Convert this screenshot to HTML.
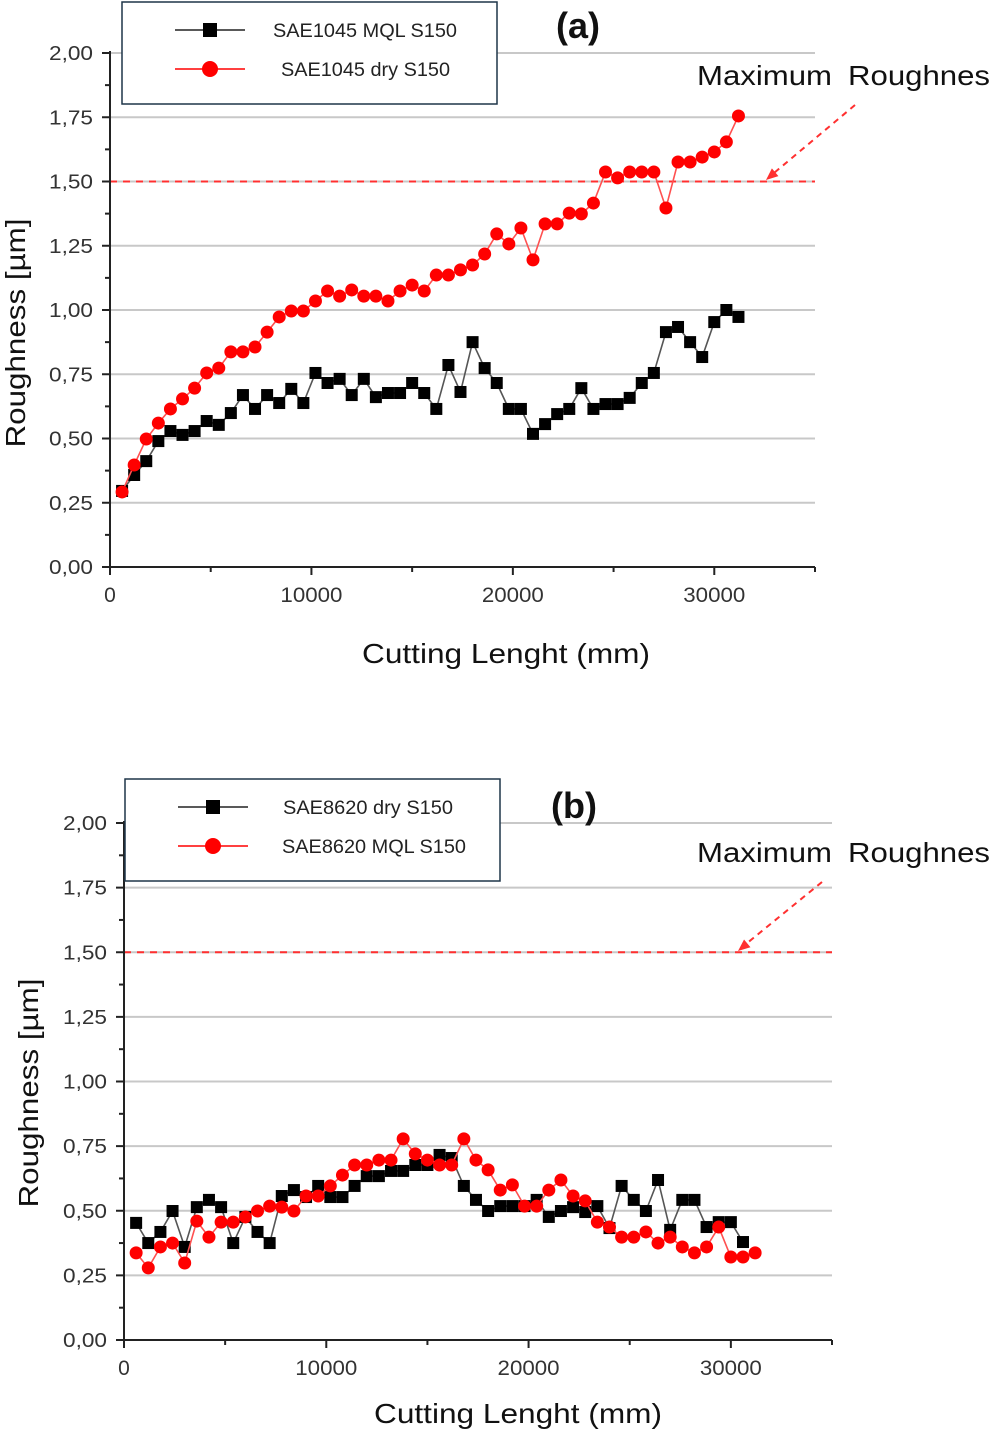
<!DOCTYPE html>
<html><head><meta charset="utf-8"><style>
html,body{margin:0;padding:0;background:#fff;}
svg{display:block;font-family:"Liberation Sans",Arial,sans-serif;}
</style></head><body>
<svg id="root" width="993" height="1438" viewBox="0 0 993 1438"></svg>
<script>
const ticksY = ["0,00","0,25","0,50","0,75","1,00","1,25","1,50","1,75","2,00"];
const tickValsY = [0,0.25,0.5,0.75,1,1.25,1.5,1.75,2];
const tickValsX = [0,10000,20000,30000];
const ticksX = ["0","10000","20000","30000"];
const maxRough = 1.5;

const aX = [600,1200,1800,2400,3000,3600,4200,4800,5400,6000,6600,7200,7800,8400,9000,9600,10200,10800,11400,12000,12600,13200,13800,14400,15000,15600,16200,16800,17400,18000,18600,19200,19800,20400,21000,21600,22200,22800,23400,24000,24600,25200,25800,26400,27000,27600,28200,28800,29400,30000,30600,31200];
const aBlack = [0.296,0.358,0.412,0.490,0.529,0.514,0.529,0.568,0.553,0.599,0.669,0.615,0.669,0.638,0.693,0.638,0.755,0.716,0.732,0.669,0.732,0.661,0.677,0.677,0.716,0.677,0.615,0.786,0.681,0.875,0.774,0.716,0.615,0.615,0.518,0.556,0.595,0.615,0.696,0.615,0.634,0.634,0.658,0.716,0.755,0.914,0.934,0.875,0.817,0.953,1.0,0.973];
const aRed = [0.292,0.397,0.498,0.560,0.615,0.654,0.696,0.755,0.774,0.837,0.837,0.856,0.914,0.973,0.996,0.996,1.035,1.074,1.054,1.078,1.054,1.054,1.035,1.074,1.097,1.074,1.136,1.136,1.156,1.175,1.218,1.296,1.257,1.319,1.195,1.335,1.335,1.377,1.374,1.416,1.537,1.514,1.537,1.537,1.537,1.397,1.576,1.576,1.595,1.615,1.654,1.755];

const bXBlack = [600,1200,1800,2400,3000,3600,4200,4800,5400,6000,6600,7200,7800,8400,9000,9600,10200,10800,11400,12000,12600,13200,13800,14400,15000,15600,16200,16800,17400,18000,18600,19200,19800,20400,21000,21600,22200,22800,23400,24000,24600,25200,25800,26400,27000,27600,28200,28800,29400,30000,30600];
const bBlack = [0.453,0.375,0.418,0.499,0.360,0.514,0.542,0.514,0.375,0.476,0.418,0.375,0.557,0.580,0.553,0.596,0.553,0.553,0.596,0.634,0.634,0.654,0.654,0.677,0.677,0.716,0.704,0.596,0.542,0.499,0.518,0.518,0.518,0.542,0.476,0.499,0.514,0.495,0.518,0.433,0.596,0.542,0.499,0.619,0.426,0.542,0.542,0.437,0.456,0.456,0.379];
const bXRed = [600,1200,1800,2400,3000,3600,4200,4800,5400,6000,6600,7200,7800,8400,9000,9600,10200,10800,11400,12000,12600,13200,13800,14400,15000,15600,16200,16800,17400,18000,18600,19200,19800,20400,21000,21600,22200,22800,23400,24000,24600,25200,25800,26400,27000,27600,28200,28800,29400,30000,30600,31200];
const bRed = [0.337,0.279,0.360,0.375,0.298,0.460,0.398,0.456,0.456,0.476,0.499,0.518,0.514,0.499,0.557,0.557,0.596,0.638,0.677,0.677,0.696,0.696,0.778,0.720,0.696,0.677,0.677,0.778,0.696,0.658,0.580,0.600,0.518,0.518,0.580,0.619,0.557,0.538,0.456,0.437,0.398,0.398,0.418,0.375,0.398,0.360,0.337,0.360,0.437,0.321,0.321,0.337];

const NS="http://www.w3.org/2000/svg";
const root=document.getElementById('root');
function mk(tag,attrs,parent){const e=document.createElementNS(NS,tag);for(const k in attrs)e.setAttribute(k,attrs[k]);(parent||root).appendChild(e);return e;}

function chart(cfg){
  const g=mk('g',{});
  
  
  const sx=v=>cfg.x0+(v/35000)*(cfg.x1-cfg.x0);
  const sy=v=>cfg.y0-(v/2)*(cfg.y0-cfg.y2);
  tickValsY.forEach((v,i)=>{
    if(i===0) return;
    const l=mk('line',{x1:cfg.x0,x2:cfg.x1,y1:sy(v),y2:sy(v),stroke:'#c8c8c8','stroke-width':2},g);
    
    
  });
  const ml=mk('line',{x1:cfg.x0,x2:cfg.x1,y1:sy(maxRough),y2:sy(maxRough),stroke:'#ff3030','stroke-width':2,'stroke-dasharray':'7,6'},g);
  
  
  const ya=mk('line',{x1:cfg.x0,x2:cfg.x0,y1:cfg.y2-2,y2:cfg.y0,stroke:'#222','stroke-width':2},g);
  
  
  const xa=mk('line',{x1:cfg.x0,x2:cfg.x1,y1:cfg.y0,y2:cfg.y0,stroke:'#222','stroke-width':2},g);
  
  
  for(let k=0;k<=16;k++){
    const v=k*0.125, y=sy(v), len=(k%2===0)?8:5;
    mk('line',{x1:cfg.x0-len,x2:cfg.x0,y1:y,y2:y,stroke:'#222','stroke-width':2},g);
  }
  tickValsY.forEach((v,i)=>{
    const t=mk('text',{x:cfg.x0-17,y:sy(v)+7,'text-anchor':'end','font-size':20,fill:'#333',textLength:44,lengthAdjust:'spacingAndGlyphs'},g);
    t.textContent=ticksY[i];
    
    
  });
  for(let k=0;k<=7;k++){
    const x=sx(k*5000), len=(k%2===0)?8:5;
    mk('line',{x1:x,x2:x,y1:cfg.y0,y2:cfg.y0+len,stroke:'#222','stroke-width':2},g);
  }
  tickValsX.forEach((v,i)=>{
    const t=mk('text',{x:sx(v),y:cfg.y0+35,'text-anchor':'middle','font-size':21,fill:'#333'},g);
    if(v>0){t.setAttribute('textLength',62);t.setAttribute('lengthAdjust','spacingAndGlyphs');}
    t.textContent=ticksX[i];
    
    
  });
  const xt=mk('text',{x:cfg.xtX,y:cfg.xtY,'text-anchor':'middle','font-size':28,fill:'#111',textLength:288,lengthAdjust:'spacingAndGlyphs'},g);
  xt.textContent='Cutting Lenght (mm)';
  
  
  const yt=mk('text',{x:0,y:0,'text-anchor':'middle','font-size':28,fill:'#111',textLength:229,lengthAdjust:'spacingAndGlyphs',transform:`translate(${cfg.ytX},${cfg.ytY}) rotate(-90)`},g);
  yt.textContent='Roughness [µm]';
  
  
  cfg.series.forEach(s=>{
    const sg=mk('g',{},g);
    
    
    const pts=s.xs.map((x,i)=>sx(x)+','+sy(s.ys[i])).join(' ');
    mk('polyline',{points:pts,fill:'none',stroke:s.line,'stroke-width':1.6},sg);
    s.xs.forEach((x,i)=>{
      let m;
      if(s.shape==='sq') m=mk('rect',{x:sx(x)-6,y:sy(s.ys[i])-6,width:12,height:12,fill:'#000'},sg);
      else m=mk('circle',{cx:sx(x),cy:sy(s.ys[i]),r:6.5,fill:'#ff0000'},sg);
      
      
    });
  });
  const lg=mk('g',{},g);
  
  
  mk('rect',{x:cfg.lx,y:cfg.ly,width:375,height:102,fill:'#fff',stroke:'#1e3548','stroke-width':1.5},lg);
  cfg.series.forEach((s,i)=>{
    const y=cfg.ly+28+i*39;
    const e=mk('g',{},lg);
    
    
    mk('line',{x1:cfg.lx+53,x2:cfg.lx+123,y1:y,y2:y,stroke:s.shape==='sq'?'#222':'#ff0000','stroke-width':1.6},e);
    if(s.shape==='sq') mk('rect',{x:cfg.lx+81,y:y-7,width:14,height:14,fill:'#000'},e);
    else mk('circle',{cx:cfg.lx+88,cy:y,r:8,fill:'#ff0000'},e);
    const t=mk('text',{x:cfg.lx+s.lt,y:y+7,'font-size':19.5,fill:'#222',textLength:s.tl,lengthAdjust:'spacingAndGlyphs'},e);
    t.textContent=s.label;
  });
  const pl=mk('text',{x:cfg.plX,y:cfg.plY,'text-anchor':'middle','font-size':36,'font-weight':'bold',fill:'#111'},g);
  pl.textContent=cfg.panel;
  
  
  const mr=mk('text',{x:697,y:cfg.mrY,'font-size':28,fill:'#111'},g);
  
  
  const t1=mk('tspan',{x:697,textLength:135,lengthAdjust:'spacingAndGlyphs'},mr);
  t1.textContent='Maximum';
  mr.appendChild(document.createTextNode(' '));
  const t2=mk('tspan',{x:848,textLength:142,lengthAdjust:'spacingAndGlyphs'},mr);
  t2.textContent='Roughnes';
  const ar=mk('g',{},g);
  
  
  const [ax1,ay1,ax2,ay2]=cfg.arrow;
  mk('line',{x1:ax1,y1:ay1,x2:ax2+8,y2:ay2-7,stroke:'#ff3030','stroke-width':2,'stroke-dasharray':'6,5'},ar);
  const ang=Math.atan2(ay2-ay1,ax2-ax1);
  const p=(d,a)=>[ax2-d*Math.cos(ang+a),ay2-d*Math.sin(ang+a)];
  const q1=p(13,0.4),q2=p(13,-0.4);
  mk('polygon',{points:`${ax2},${ay2} ${q1[0]},${q1[1]} ${q2[0]},${q2[1]}`,fill:'#ff3030'},ar);
}

chart({name:'chart-a',x0:110,x1:815,y0:567,y2:53,xtX:506,xtY:663,ytX:25,ytY:333,lx:122,ly:2,plX:578,plY:38,mrY:85,arrow:[855,105,766,180],panel:'(a)',
  series:[{name:'series-sae1045-mql',xs:aX,ys:aBlack,shape:'sq',line:'#555',label:'SAE1045 MQL S150',lt:151,tl:184},
          {name:'series-sae1045-dry',xs:aX,ys:aRed,shape:'ci',line:'#ff5050',label:'SAE1045 dry S150',lt:159,tl:169}]});
chart({name:'chart-b',x0:124,x1:832,y0:1340,y2:823,xtX:518,xtY:1423,ytX:38,ytY:1093,lx:125,ly:779,plX:574,plY:818,mrY:862,arrow:[822,882,738,951],panel:'(b)',
  series:[{name:'series-sae8620-dry',xs:bXBlack,ys:bBlack,shape:'sq',line:'#555',label:'SAE8620 dry S150',lt:158,tl:170},
          {name:'series-sae8620-mql',xs:bXRed,ys:bRed,shape:'ci',line:'#ff5050',label:'SAE8620 MQL S150',lt:157,tl:184}]});
</script>
</body></html>
